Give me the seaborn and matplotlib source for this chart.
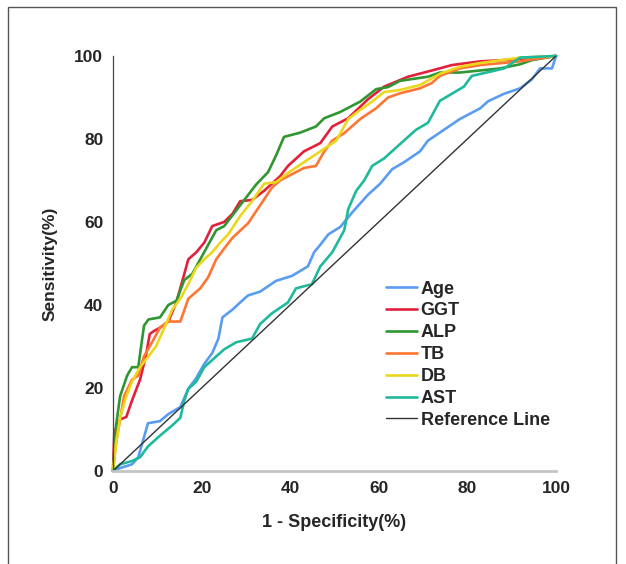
import pandas as pd
import matplotlib
matplotlib.use('Agg')
import matplotlib.pyplot as plt
import seaborn as sns
from matplotlib.patches import Rectangle

# ROC curves (1 - specificity %, sensitivity %)
age_x = [0, 1.6, 4.3, 5.7, 7.9, 10.6, 12.5, 15.2, 17.0, 18.8, 20.6, 22.4, 23.8, 24.7, 27.0, 28.7,
         30.5, 33.2, 36.8, 40.4, 44.0, 45.4, 46.8, 48.6, 51.3, 54.0, 57.6, 60.3, 63.0, 65.7, 69.3,
         71.1, 74.7, 78.3, 82.9, 84.7, 88.3, 91.9, 94.6, 96.4, 99.1, 100]
age_y = [0, 0.7, 1.6, 3.3, 11.5, 12.0, 13.7, 15.4, 19.8, 22.4, 25.8, 28.4, 31.9, 37.0, 38.9, 40.6,
         42.3, 43.2, 45.8, 47.0, 49.3, 52.7, 54.5, 57.0, 58.8, 62.3, 66.6, 69.2, 72.7, 74.4, 77.0,
         79.6, 82.2, 84.8, 87.4, 89.1, 90.9, 92.2, 94.4, 97.0, 97.0, 100]

ggt_x = [0, 0.3, 1.6, 3.0, 4.3, 6.1, 7.4, 8.3, 9.2, 10.6, 12.5, 14.3, 16.1, 17.0, 18.8, 20.6, 22.4,
         25.1, 27.0, 28.7, 31.4, 34.1, 37.7, 39.5, 43.1, 46.8, 49.5, 53.1, 57.6, 61.2, 66.6, 72.0,
         76.5, 82.9, 88.3, 100]
ggt_y = [0, 9.4, 12.4, 13.0, 17.0, 22.0, 27.6, 33.0, 33.7, 34.5, 36.0, 40.6, 47.5, 51.0, 52.7, 55.0,
         59.0, 60.0, 62.0, 65.0, 65.3, 67.5, 71.0, 73.5, 77.0, 79.0, 83.0, 85.0, 89.6, 92.6, 95.0, 96.5,
         97.8, 98.7, 99.0, 100]

alp_x = [0, 0.7, 1.6, 3.2, 4.3, 5.7, 7.0, 8.0, 10.6, 12.5, 14.3, 16.1, 17.9, 21.5, 23.3, 25.1, 28.7,
         32.3, 35.0, 36.8, 38.6, 42.2, 45.8, 47.7, 51.3, 55.8, 59.4, 62.1, 64.8, 71.1, 73.8, 78.3,
         82.9, 87.4, 91.9, 94.6, 100]
alp_y = [0, 11.0, 18.0, 23.0, 25.0, 25.0, 35.0, 36.5, 37.0, 40.0, 41.0, 46.0, 47.5, 54.5, 58.0, 59.0,
         64.0, 69.0, 72.0, 76.0, 80.5, 81.5, 83.0, 85.0, 86.5, 89.0, 92.0, 92.5, 94.0, 95.0, 96.0, 96.0,
         96.5, 97.0, 98.0, 99.0, 100]

tb_x = [0, 0.7, 2.5, 4.3, 5.7, 7.0, 8.8, 10.6, 12.5, 15.2, 17.0, 19.7, 21.5, 23.3, 25.1, 27.0, 30.5,
        33.2, 35.9, 37.7, 39.5, 43.1, 45.8, 47.7, 49.5, 52.2, 55.8, 59.4, 62.1, 64.8, 69.3, 72.0,
        73.8, 78.3, 82.9, 91.9, 100]
tb_y = [0, 6.8, 18.0, 22.0, 23.0, 27.6, 31.0, 34.5, 36.0, 36.0, 41.5, 44.0, 46.7, 51.0, 53.6, 56.2,
        59.7, 64.0, 68.3, 70.0, 71.0, 73.0, 73.5, 77.0, 79.6, 81.4, 84.8, 87.4, 90.0, 91.0, 92.2, 93.5,
        95.2, 97.0, 97.8, 98.7, 100]

db_x = [0, 0.7, 1.6, 3.0, 4.3, 6.1, 8.0, 9.7, 11.6, 13.4, 15.2, 17.0, 18.8, 20.6, 22.4, 24.2, 26.0,
        28.7, 31.4, 34.1, 36.8, 39.5, 43.1, 46.8, 50.4, 53.1, 55.8, 58.5, 61.2, 64.8, 69.3, 73.8,
        78.3, 82.9, 91.9, 100]
db_y = [0, 6.8, 12.8, 18.0, 21.5, 25.0, 27.6, 30.0, 34.5, 38.9, 41.5, 45.0, 49.0, 51.0, 52.7, 55.0,
        57.0, 61.4, 65.0, 69.2, 69.6, 71.8, 74.4, 77.0, 79.6, 84.8, 87.0, 89.0, 91.3, 91.8, 93.0, 95.7,
        97.4, 98.3, 99.6, 100]

ast_x = [0, 1.6, 4.3, 6.1, 7.9, 10.6, 13.4, 15.2, 16.1, 17.0, 18.8, 20.6, 23.3, 25.1, 27.8, 31.4,
         33.2, 35.9, 39.5, 41.3, 44.9, 46.8, 49.5, 52.2, 53.1, 54.9, 56.7, 58.5, 61.2, 63.9, 66.6,
         68.4, 71.1, 73.8, 76.5, 79.2, 81.0, 84.7, 88.3, 91.9, 100]
ast_y = [0, 1.6, 2.4, 3.3, 5.9, 8.5, 11.0, 12.8, 17.0, 19.8, 21.5, 25.0, 27.6, 29.3, 31.0, 31.9,
         35.4, 38.0, 40.6, 44.0, 45.0, 49.3, 52.7, 58.0, 63.1, 67.5, 70.0, 73.5, 75.3, 77.9, 80.5,
         82.2, 83.9, 89.2, 90.9, 92.6, 95.2, 96.1, 97.0, 99.6, 100]

ref_x = [0, 100]
ref_y = [0, 100]

names = ['Age', 'GGT', 'ALP', 'TB', 'DB', 'AST']
xs = [age_x, ggt_x, alp_x, tb_x, db_x, ast_x]
ys = [age_y, ggt_y, alp_y, tb_y, db_y, ast_y]
colors = ['#5a9cf0', '#e3203c', '#2f9631', '#ff7533', '#ebd71c', '#1fb99b']

sns.set_style('white')
plt.rcParams['font.family'] = ['Liberation Sans', 'DejaVu Sans']

fig = plt.figure(figsize=(6.26, 5.64), dpi=100)
ax = fig.add_axes([0.1805, 0.165, 0.7077, 0.7358])

for name, x, y, c in zip(names, xs, ys, colors):
    df = pd.DataFrame({'fpr': x, 'tpr': y})
    sns.lineplot(data=df, x='fpr', y='tpr', sort=False, estimator=None, color=c,
                 linewidth=1.9, label=name, ax=ax, clip_on=False)

ref = pd.DataFrame({'fpr': ref_x, 'tpr': ref_y})
sns.lineplot(data=ref, x='fpr', y='tpr', sort=False, estimator=None, color='#333333',
             linewidth=1.0, label='Reference Line', ax=ax)

ax.set_xlim(0, 100)
ax.set_ylim(0, 100)
ax.set_xticks([0, 20, 40, 60, 80, 100])
ax.set_yticks([0, 20, 40, 60, 80, 100])
ax.tick_params(length=0, labelsize=12.5, pad=7)
for lab in ax.get_xticklabels() + ax.get_yticklabels():
    lab.set_fontweight('bold')
ax.set_xlabel('1 - Specificity(%)', fontsize=13, fontweight='bold', labelpad=13)
ax.set_ylabel('Sensitivity(%)', fontsize=12.5, fontweight='bold', labelpad=12)

for s in ['top', 'right']:
    ax.spines[s].set_visible(False)
ax.spines['left'].set_color('#444444')
ax.spines['left'].set_linewidth(0.9)
ax.spines['bottom'].set_color('#c4c4c4')
ax.spines['bottom'].set_linewidth(2.0)

leg = ax.legend(loc='upper left', bbox_to_anchor=(0.58, 0.498), frameon=False,
                handlelength=1.7, handletextpad=0.2, labelspacing=0.27,
                prop={'size': 13, 'weight': 'bold'})

# frame around the figure, open at the bottom
fig.patches.append(Rectangle((8 / 626, -0.05), 608 / 626, 1.05 - 7 / 564,
                             transform=fig.transFigure, fill=False,
                             edgecolor='#555555', linewidth=1.0))

fig.savefig('out.png', dpi=100)
